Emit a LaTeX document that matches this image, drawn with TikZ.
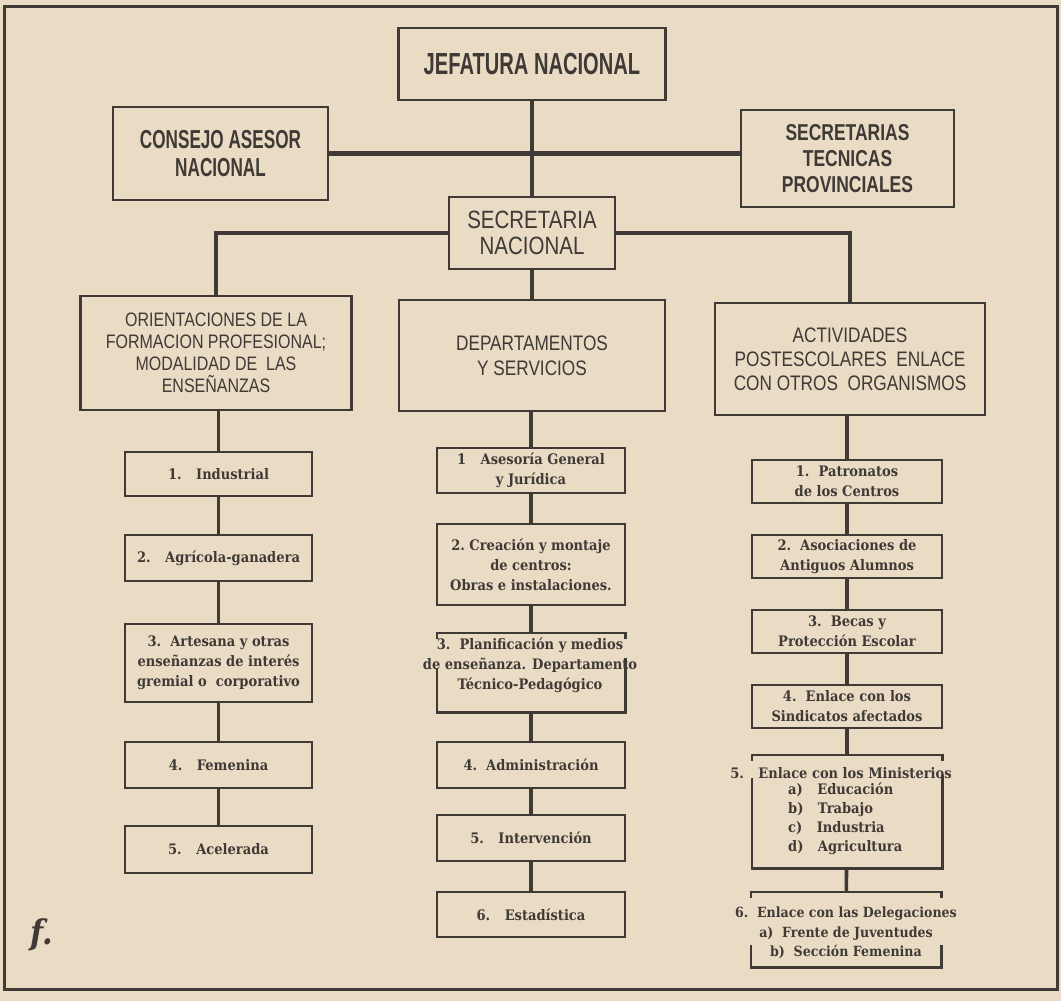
\documentclass[tikz,border=0pt]{standalone}
\usepackage{fontspec}
\setmainfont{DejaVu Serif}
\newfontfamily\condA[FakeStretch=0.66]{Liberation Sans}
\newfontfamily\condC[FakeStretch=0.76]{Liberation Sans}
\newfontfamily\condB[FakeStretch=0.82]{Liberation Sans}
\newfontfamily\serf[FakeStretch=0.9]{DejaVu Serif}
\usetikzlibrary{calc}
\definecolor{paper}{HTML}{E9DBC4}
\definecolor{ink}{HTML}{3F3A36}
\begin{document}
\begin{tikzpicture}[x=1pt,y=-1pt,
  bx/.style={draw=ink, line width=2.6pt, rectangle, inner sep=0pt, text=ink, align=center},
  shp/.style={rectangle, inner sep=0pt},
  sub/.style={bx, font=\serf\bfseries\fontsize{14.5}{20}\selectfont},
  subtxt/.style={text=ink, inner sep=0pt, font=\serf\bfseries\fontsize{14.5}{20}\selectfont},
  edge/.style={draw=ink, line width=2.6pt},
  ln/.style={draw=ink, line width=3.6pt},
  lnw/.style={draw=ink, line width=4.6pt}]
\useasboundingbox (0,0) rectangle (1061,1001);
\fill[paper] (0,0) rectangle (1061,1001);
\draw[ink, line width=3pt] (4,6) rectangle (1057,989);

% top level
\node[bx, minimum width=267pt, minimum height=72pt, font=\condA\bfseries\fontsize{30.5}{32}\selectfont] (jef) at (532,64) {JEFATURA NACIONAL};
\node[bx, minimum width=215pt, minimum height=93pt, font=\condA\bfseries\fontsize{26}{28}\selectfont] (cons) at (220.5,153.5) {CONSEJO ASESOR\\NACIONAL};
\node[bx, minimum width=213pt, minimum height=97pt, font=\condC\bfseries\fontsize{23}{26}\selectfont] (stp) at (847.5,158.5) {SECRETARIAS\\TECNICAS\\PROVINCIALES};
\node[bx, minimum width=166pt, minimum height=72pt, font=\condB\fontsize{25}{26}\selectfont] (sn) at (532,233) {SECRETARIA\\NACIONAL};

% second level
\node[bx, minimum width=271pt, minimum height=114pt, font=\condB\fontsize{19.5}{22}\selectfont] (ori) at (216,353) {ORIENTACIONES\ DE\ LA\\FORMACION PROFESIONAL;\\MODALIDAD DE\ \ LAS\\ENSEÑANZAS};
\node[bx, minimum width=266pt, minimum height=111pt, font=\condB\fontsize{21}{25}\selectfont] (dep) at (532,355.5) {DEPARTAMENTOS\\Y SERVICIOS};
\node[bx, minimum width=270pt, minimum height=112pt, font=\condB\fontsize{21}{24}\selectfont] (act) at (850,359) {ACTIVIDADES\\POSTESCOLARES\ \ ENLACE\\CON OTROS\ \ ORGANISMOS};

% left column
\node[sub, minimum width=187pt, minimum height=44pt] (i1) at (218.5,474) {1.\quad Industrial};
\node[sub, minimum width=187pt, minimum height=46pt] (i2) at (218.5,558) {2.\quad Agrícola-ganadera};
\node[sub, minimum width=187pt, minimum height=78pt] (i3) at (218.5,663) {3.\ \ Artesana y otras\\enseñanzas de interés\\gremial o\ \ corporativo};
\node[sub, minimum width=187pt, minimum height=46pt] (i4) at (218.5,765) {4.\quad Femenina};
\node[sub, minimum width=187pt, minimum height=47pt] (i5) at (218.5,849.5) {5.\quad Acelerada};

% middle column
\node[sub, minimum width=188pt, minimum height=45pt] (d1) at (531,470.5) {1\quad Asesoría General\\y Jurídica};
\node[sub, minimum width=188pt, minimum height=81pt] (d2) at (531,564.5) {2.\ Creación y montaje\\de centros:\\Obras e instalaciones.};
\node[shp, minimum width=188pt, minimum height=79pt] (d3) at (531,672.5) {};
\node[subtxt, align=center] (d3t) at (530,665) {3.\ \ Planificación y medios\\de enseñanza. Departamento\\Técnico-Pedagógico};
\node[sub, minimum width=188pt, minimum height=46pt] (d4) at (531,765) {4.\ \ Administración};
\node[sub, minimum width=188pt, minimum height=46pt] (d5) at (531,838) {5.\quad Intervención};
\node[sub, minimum width=188pt, minimum height=45pt] (d6) at (531,914.5) {6.\quad Estadística};

% right column
\node[sub, minimum width=190pt, minimum height=43pt] (a1) at (847,481.5) {1.\ \ Patronatos\\de los Centros};
\node[sub, minimum width=190pt, minimum height=43pt] (a2) at (847,556.5) {2.\ \ Asociaciones de\\Antiguos Alumnos};
\node[sub, minimum width=190pt, minimum height=43pt] (a3) at (847,631.5) {3.\ \ Becas y\\Protección Escolar};
\node[sub, minimum width=190pt, minimum height=43pt] (a4) at (847,706.5) {4.\ \ Enlace con los\\Sindicatos afectados};
\node[shp, minimum width=190pt, minimum height=113pt] (a5) at (847,811.5) {};
\node[subtxt] (a5h) at (841,773) {5.\quad Enlace con los Ministerios};
\node[subtxt, anchor=north west, align=left, font=\serf\bfseries\fontsize{14.5}{19}\selectfont] (a5l) at (788,783) {a)\quad Educación\\b)\quad Trabajo\\c)\quad Industria\\d)\quad Agricultura};
\node[shp, minimum width=190pt, minimum height=75pt] (a6) at (846,929.5) {};
\node[subtxt, align=center, font=\serf\bfseries\fontsize{14}{19.5}\selectfont] (a6t) at (846,933) {6.\ \ Enlace con las Delegaciones\\a)\ \ Frente de Juventudes\\b)\ \ Sección Femenina};

% partial outlines
\draw[edge] ($(d3.north west)+(0,6)$) -- (d3.north west) -- (d3.north east) -- ++(0,6);
\draw[edge] ($(d3.south west)+(0,-44)$) -- (d3.south west) -- (d3.south east) -- ++(0,-54);
\draw[edge] ($(a5.north west)+(0,6)$) -- (a5.north west) -- (a5.north east) -- ++(0,6);
\draw[edge] ($(a5.south west)+(0,-90)$) -- (a5.south west) -- (a5.south east) -- ++(0,-93);
\draw[edge] ($(a6.north west)+(0,6)$) -- (a6.north west) -- (a6.north east) -- ++(0,6);
\draw[edge] ($(a6.south west)+(0,-22)$) -- (a6.south west) -- (a6.south east) -- ++(0,-22);

% connectors
\draw[ln] (jef) -- (sn);
\draw[lnw] (cons.east) -- (cons.east -| stp.west);
\draw[lnw] (sn.west) -| (ori.north);
\draw[lnw] (sn.east) -| (act.north);
\draw[ln] (sn) -- (dep);
\draw[ln] (i1.north |- ori.south) -- (i1.north);
\draw[ln] (i1) -- (i2);
\draw[ln] (i2) -- (i3);
\draw[ln] (i3) -- (i4);
\draw[ln] (i4) -- (i5);
\draw[ln] (d1.north |- dep.south) -- (d1.north);
\draw[ln] (d1) -- (d2);
\draw[ln] (d2) -- (d3);
\draw[ln] (d3) -- (d4);
\draw[ln] (d4) -- (d5);
\draw[ln] (d5) -- (d6);
\draw[ln] (a1.north |- act.south) -- (a1.north);
\draw[ln] (a1) -- (a2);
\draw[ln] (a2) -- (a3);
\draw[ln] (a3) -- (a4);
\draw[ln] (a4) -- (a5);
\draw[ln] (a5) -- (a6);

% hand mark
\node[text=ink, font=\serf\bfseries\itshape\fontsize{34}{34}\selectfont] (mark) at (42,935) {f.};
\end{tikzpicture}
\end{document}
